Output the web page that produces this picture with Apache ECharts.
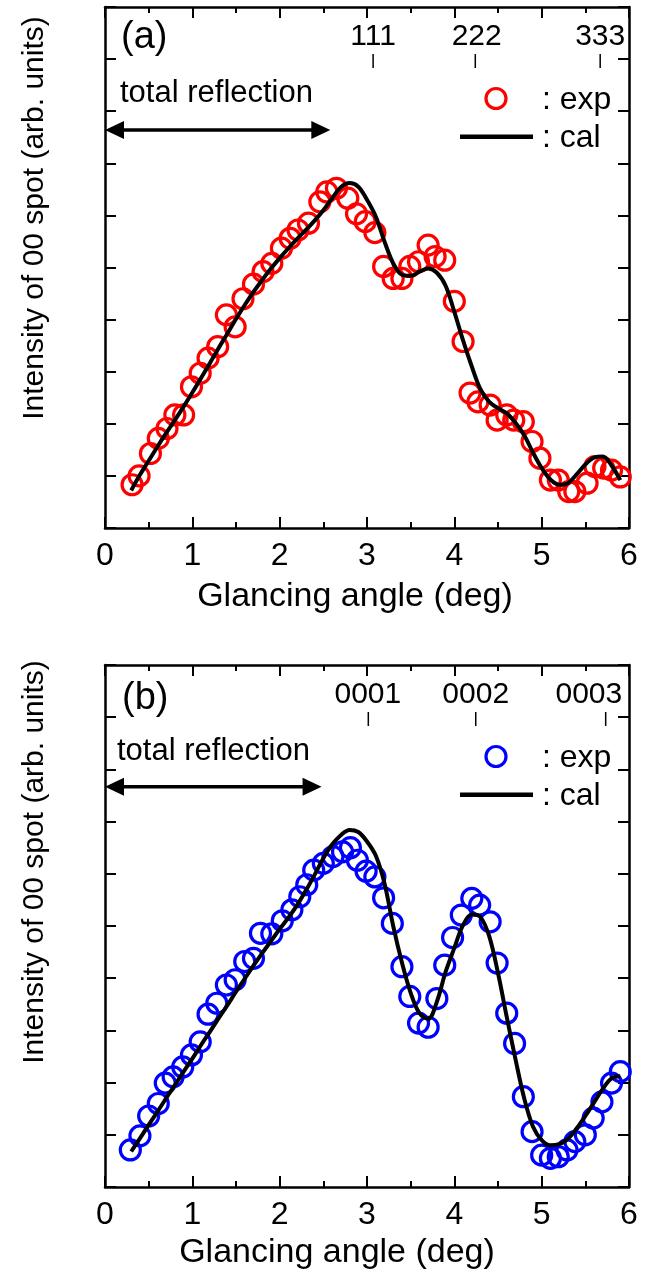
<!DOCTYPE html>
<html lang="en">
<head>
<meta charset="UTF-8">
<title>Rocking curves of the 00 spot</title>
<script src="https://cdn.jsdelivr.net/npm/echarts@6/dist/echarts.min.js"></script>
<style>
    html, body { margin: 0; padding: 0; background: #fff; }
    #main { width: 648px; height: 1275px; }
</style>
</head>
<body>
<div id="main"></div>
<script>
    var FONT = '"Liberation Sans", Arial, Helvetica, sans-serif';

    // panel (a): experiment (red circles) and calculation (black line)
    var expAx = [0.31, 0.39, 0.52, 0.61, 0.71, 0.80, 0.90, 0.99, 1.09, 1.18, 1.29, 1.39, 1.49, 1.58, 1.70,
        1.81, 1.91, 2.02, 2.12, 2.21, 2.33, 2.46, 2.54, 2.65, 2.78, 2.88, 2.98, 3.09, 3.19, 3.30,
        3.40, 3.49, 3.59, 3.70, 3.78, 3.89, 4.00, 4.10, 4.18, 4.27, 4.41, 4.49, 4.60, 4.68, 4.79,
        4.89, 4.98, 5.10, 5.19, 5.31, 5.38, 5.52, 5.61, 5.71, 5.80, 5.90];
    var expAy = [0.83, 1.00, 1.43, 1.72, 1.91, 2.17, 2.17, 2.71, 2.97, 3.26, 3.48, 4.09, 3.86, 4.40, 4.68,
        4.92, 5.08, 5.37, 5.56, 5.72, 5.85, 6.26, 6.45, 6.52, 6.33, 6.03, 5.88, 5.67, 5.02, 4.79,
        4.79, 5.02, 5.11, 5.43, 5.21, 5.14, 4.35, 3.58, 2.59, 2.42, 2.36, 2.07, 2.17, 2.07, 2.04,
        1.66, 1.34, 0.92, 0.92, 0.70, 0.70, 0.86, 1.18, 1.15, 1.11, 0.98];

    // calculated curves share the same angles
    var calX = [0.3, 0.4, 0.5, 0.6, 0.7, 0.8, 0.9, 1.0, 1.1, 1.2, 1.3, 1.4, 1.5, 1.6, 1.7, 1.8, 1.9, 2.0,
        2.1, 2.2, 2.3, 2.4, 2.5, 2.6, 2.7, 2.8, 2.9, 3.0, 3.1, 3.2, 3.3, 3.4, 3.5, 3.6, 3.7, 3.8,
        3.9, 4.0, 4.1, 4.2, 4.3, 4.4, 4.5, 4.6, 4.7, 4.8, 4.9, 5.0, 5.1, 5.2, 5.3, 5.4, 5.5, 5.6,
        5.7, 5.8, 5.9];
    var calAy = [0.72, 1.02, 1.29, 1.56, 1.82, 2.07, 2.33, 2.60, 2.88, 3.16, 3.45, 3.73, 4.01, 4.28, 4.53,
        4.76, 4.98, 5.18, 5.37, 5.55, 5.72, 5.90, 6.10, 6.33, 6.54, 6.62, 6.55, 6.30, 5.98, 5.50,
        5.08, 4.86, 4.84, 4.92, 4.98, 4.90, 4.65, 4.15, 3.60, 3.10, 2.66, 2.42, 2.30, 2.20, 2.02,
        1.78, 1.45, 1.15, 0.93, 0.83, 0.86, 1.03, 1.22, 1.35, 1.37, 1.20, 0.92];

    // panel (b): experiment (blue circles) and calculation
    var expBx = [0.29, 0.40, 0.50, 0.61, 0.69, 0.78, 0.89, 0.99, 1.09, 1.18, 1.28, 1.39, 1.49, 1.60, 1.70,
        1.78, 1.91, 2.03, 2.14, 2.23, 2.31, 2.39, 2.50, 2.61, 2.72, 2.81, 2.89, 2.99, 3.09, 3.19,
        3.29, 3.40, 3.49, 3.59, 3.70, 3.80, 3.89, 3.98, 4.08, 4.20, 4.29, 4.41, 4.49, 4.60, 4.69,
        4.79, 4.89, 5.00, 5.10, 5.19, 5.29, 5.38, 5.50, 5.59, 5.69, 5.80, 5.90];
    var expBy = [0.71, 0.98, 1.36, 1.60, 1.99, 2.11, 2.30, 2.53, 2.78, 3.31, 3.52, 3.87, 3.97, 4.32, 4.38,
        4.86, 4.85, 5.10, 5.31, 5.56, 5.79, 6.07, 6.20, 6.33, 6.42, 6.50, 6.26, 6.05, 5.94, 5.54,
        5.05, 4.22, 3.65, 3.14, 3.06, 3.61, 4.25, 4.78, 5.21, 5.53, 5.40, 5.08, 4.29, 3.33, 2.75,
        1.73, 1.06, 0.61, 0.55, 0.58, 0.71, 0.87, 1.00, 1.32, 1.63, 1.99, 2.21];
    var calBy = [0.68, 0.93, 1.19, 1.44, 1.70, 1.95, 2.21, 2.46, 2.72, 2.97, 3.23, 3.48, 3.74, 3.99, 4.24,
        4.48, 4.71, 4.94, 5.16, 5.40, 5.68, 5.98, 6.30, 6.56, 6.74, 6.84, 6.80, 6.62, 6.35, 5.82,
        5.00, 4.30, 3.72, 3.33, 3.22, 3.55, 4.12, 4.58, 5.02, 5.22, 5.17, 4.80, 4.10, 3.26, 2.45,
        1.70, 1.16, 0.90, 0.80, 0.82, 0.92, 1.12, 1.36, 1.62, 1.88, 2.08, 2.12];

    // annotations
    var panelNames = ['(a)', '(b)'];
    var expColors = ['#ff0000', '#0000ff'];
    var peakNames = [['111', '222', '333'], ['0001', '0002', '0003']];
    var peakTicks = [[3.07, 4.24, 5.67], [3.015, 4.245, 5.733]];
    var peakTextX = [[3.07, 4.256, 5.67], [3.01, 4.245, 5.54]];
    var arrowEnd = [2.58, 2.48];
    var arrowY = [7.64, 7.67];

    var chart = echarts.init(document.getElementById('main'));

    function pairs(xs, ys) {
        return xs.map(function (x, i) { return [x, ys[i]]; });
    }

    var axisLine = {onZero: false, lineStyle: {color: '#000', width: 2.5}};
    var tick = {inside: true, length: 11, lineStyle: {color: '#000', width: 2}};

    function xAxes(g) {
        var base = {
            type: 'value', gridIndex: g, min: 0, max: 6, interval: 1,
            axisLine: axisLine, axisTick: tick,
            minorTick: {show: true, splitNumber: 2, length: 6, lineStyle: {color: '#000', width: 2}},
            splitLine: {show: false}, minorSplitLine: {show: false}
        };
        return [
            Object.assign({}, base, {
                position: 'bottom',
                axisLabel: {margin: 12, fontSize: 32, color: '#000', fontFamily: FONT}
            }),
            Object.assign({}, base, {position: 'top', axisLabel: {show: false}})
        ];
    }

    function yAxes(g) {
        var base = {
            type: 'value', gridIndex: g, min: 0, max: 10, interval: 1,
            axisLine: axisLine, axisTick: tick,
            axisLabel: {show: false}, splitLine: {show: false}
        };
        return [
            Object.assign({}, base, {position: 'left'}),
            Object.assign({}, base, {position: 'right'})
        ];
    }

    function series(g, ex, ey, cy) {
        return [{
            type: 'scatter', xAxisIndex: 2 * g, yAxisIndex: 2 * g,
            data: pairs(ex, ey), symbol: 'circle', symbolSize: 20, silent: true, z: 2,
            itemStyle: {color: 'rgba(0,0,0,0)', borderColor: expColors[g], borderWidth: 3.2, opacity: 1}
        }, {
            type: 'line', xAxisIndex: 2 * g, yAxisIndex: 2 * g,
            data: pairs(calX, cy), smooth: 0.35, showSymbol: false, silent: true, z: 3,
            lineStyle: {color: '#000', width: 4}
        }];
    }

    chart.setOption({
        animation: false,
        backgroundColor: '#fff',
        grid: [
            {left: 105, top: 7, width: 524, height: 521},
            {left: 105, top: 665, width: 524, height: 522}
        ],
        xAxis: xAxes(0).concat(xAxes(1)),
        yAxis: yAxes(0).concat(yAxes(1)),
        series: series(0, expAx, expAy, calAy).concat(series(1, expBx, expBy, calBy))
    });

    // labels, arrows and legends placed from the axes' own scales
    var letterOff = [[16, 31], [17, 34]];
    var reflOff = [[15, 86], [12, 86]];
    var yTitleOff = [211, 197];
    var xTitle = [[355, 69], [337, 66]];
    var els = [];

    function txt(x, y, s, size, align, extra) {
        return Object.assign({
            type: 'text', x: x, y: y, silent: true,
            style: {text: s, fontSize: size, fontFamily: FONT, fill: '#000', align: align, verticalAlign: 'middle'}
        }, extra || {});
    }

    [0, 1].forEach(function (g) {
        var lt = chart.convertToPixel({gridIndex: g}, [0, 10]);
        var rb = chart.convertToPixel({gridIndex: g}, [6, 0]);
        var left = lt[0], top = lt[1], bottom = rb[1];

        els.push(txt(left + letterOff[g][0], top + letterOff[g][1], panelNames[g], 38, 'left'));
        els.push(txt(left + reflOff[g][0], top + reflOff[g][1], 'total reflection', 31, 'left'));

        // double headed arrow
        var a0 = chart.convertToPixel({gridIndex: g}, [0, arrowY[g]]);
        var a1 = chart.convertToPixel({gridIndex: g}, [arrowEnd[g], arrowY[g]]);
        els.push({type: 'line', silent: true, shape: {x1: a0[0] + 15, y1: a0[1], x2: a1[0] - 15, y2: a1[1]},
            style: {stroke: '#000', lineWidth: 3.5}});
        els.push({type: 'polygon', silent: true, shape: {points: [[a0[0], a0[1]], [a0[0] + 19, a0[1] - 9], [a0[0] + 19, a0[1] + 9]]},
            style: {fill: '#000'}});
        els.push({type: 'polygon', silent: true, shape: {points: [[a1[0], a1[1]], [a1[0] - 19, a1[1] - 9], [a1[0] - 19, a1[1] + 9]]},
            style: {fill: '#000'}});

        // Bragg peak positions
        peakNames[g].forEach(function (name, i) {
            var tx = chart.convertToPixel({gridIndex: g}, [peakTextX[g][i], 0])[0];
            var kx = chart.convertToPixel({gridIndex: g}, [peakTicks[g][i], 0])[0];
            els.push(txt(tx, top + 30, name, 30, 'center'));
            els.push({type: 'line', silent: true, shape: {x1: kx, y1: top + 47, x2: kx, y2: top + 61},
                style: {stroke: '#000', lineWidth: 1.5}});
        });

        // legend
        els.push({type: 'circle', silent: true, shape: {cx: left + 391, cy: top + 91.5, r: 10},
            style: {fill: 'none', stroke: expColors[g], lineWidth: 3.2}});
        els.push({type: 'line', silent: true, shape: {x1: left + 355, y1: top + 129.7, x2: left + 428, y2: top + 129.7},
            style: {stroke: '#000', lineWidth: 4.5}});
        els.push(txt(left + 437, top + 93, ': exp', 32, 'left'));
        els.push(txt(left + 437, top + 131, ': cal', 32, 'left'));

        // axis titles
        els.push(txt(35, top + yTitleOff[g], 'Intensity of 00 spot (arb. units)', 30, 'center', {rotation: Math.PI / 2}));
        els.push(txt(xTitle[g][0], bottom + xTitle[g][1], 'Glancing angle (deg)', 34, 'center'));
    });

    chart.setOption({graphic: els});
</script>
</body>
</html>
